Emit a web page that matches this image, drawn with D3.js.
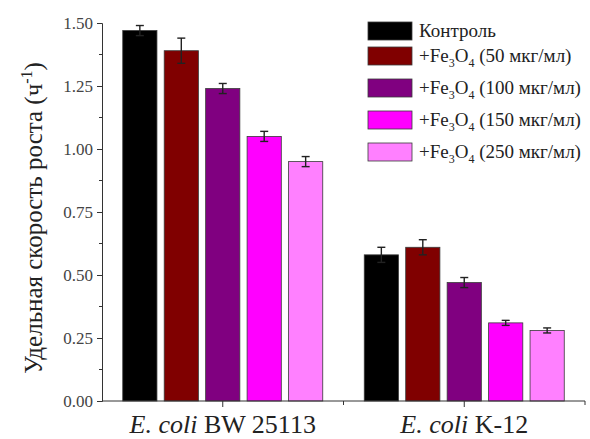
<!DOCTYPE html>
<html>
<head>
<meta charset="utf-8">
<script src="https://cdn.jsdelivr.net/npm/d3@7"></script>
<style>
  body { margin: 0; background: #fff; }
  svg text { font-family: "Liberation Serif", "Tinos", "Times New Roman", "DejaVu Serif", serif; }
</style>
</head>
<body>
<svg width="590" height="439"></svg>
<script>
// данные
const strains = ["BW 25113", "K-12"];
const series = ["Контроль", "50", "100", "150", "250"];
const colors = ["#000000", "#800000", "#800080", "#ff00ff", "#ff80ff"];
const bw25113 = [1.47, 1.39, 1.24, 1.05, 0.95];
const bw25113Err = [0.02, 0.05, 0.02, 0.02, 0.02];
const k12 = [0.58, 0.61, 0.47, 0.31, 0.28];
const k12Err = [0.03, 0.03, 0.02, 0.01, 0.01];
const yTicks = [0, 0.25, 0.5, 0.75, 1.0, 1.25, 1.5];

const values = [bw25113, k12];
const errors = [bw25113Err, k12Err];

const serif = "'Liberation Serif', Tinos, 'Times New Roman', 'DejaVu Serif', serif";
const svg = d3.select("svg").attr("font-family", serif);
const plotL = 102, plotR = 585, plotT = 23, plotB = 401;

const x = d3.scaleBand().domain(strains).range([plotL, plotR]);
const xs = d3.scaleBand().domain(series).range([0, 200]).paddingInner(0.175);
const y = d3.scaleLinear().domain([0, 1.5]).range([plotB, plotT]);

const groups = svg
  .selectAll("g.grp")
  .data(strains)
  .enter()
  .append("g")
  .attr("class", "grp")
  .attr("transform", (d) => "translate(" + (x(d) + x.bandwidth() / 2 - 100) + ",0)");

// столбики
groups.each(function (s, gi) {
  const g = d3.select(this);
  const rows = series.map((k, i) => ({ k, v: values[gi][i], e: errors[gi][i], c: colors[i] }));
  g.selectAll("rect")
    .data(rows)
    .enter()
    .append("rect")
    .attr("x", (d) => xs(d.k))
    .attr("y", (d) => y(d.v))
    .attr("width", xs.bandwidth())
    .attr("height", (d) => y(0) - y(d.v))
    .attr("fill", (d) => d.c)
    .attr("stroke", "#3a3a3a")
    .attr("stroke-width", 0.8);

  // погрешности
  const eb = g.selectAll("g.err").data(rows).enter().append("g").attr("class", "err")
    .attr("stroke", "#222").attr("stroke-width", 1.4);
  const cx = (d) => xs(d.k) + xs.bandwidth() / 2;
  eb.append("line")
    .attr("x1", cx).attr("x2", cx)
    .attr("y1", (d) => y(d.v - d.e)).attr("y2", (d) => y(d.v + d.e));
  eb.append("line")
    .attr("x1", (d) => cx(d) - 4).attr("x2", (d) => cx(d) + 4)
    .attr("y1", (d) => y(d.v + d.e)).attr("y2", (d) => y(d.v + d.e));
  eb.append("line")
    .attr("x1", (d) => cx(d) - 4).attr("x2", (d) => cx(d) + 4)
    .attr("y1", (d) => y(d.v - d.e)).attr("y2", (d) => y(d.v - d.e));
});

// ось Y
const yAxis = svg.append("g").attr("transform", "translate(" + plotL + ",0)")
  .call(d3.axisLeft(y).tickValues(yTicks).tickFormat(d3.format(".2f")).tickSizeOuter(0).tickSize(5).tickPadding(4));
yAxis.attr("font-family", serif);
yAxis.select(".domain").attr("stroke", "#333");
yAxis.selectAll(".tick line").attr("stroke", "#333");
yAxis.selectAll("text").attr("font-size", 17).attr("fill", "#444");
const minorY = d3.range(0.125, 1.5, 0.25);
svg.append("g").selectAll("line").data(minorY).enter().append("line")
  .attr("x1", plotL - 3).attr("x2", plotL)
  .attr("y1", (d) => y(d)).attr("y2", (d) => y(d))
  .attr("stroke", "#333");

// ось X
svg.append("line").attr("x1", plotL).attr("x2", plotR).attr("y1", plotB).attr("y2", plotB)
  .attr("stroke", "#333");
svg.append("g").selectAll("line").data(strains).enter().append("line")
  .attr("x1", (d) => x(d) + x.bandwidth() / 2).attr("x2", (d) => x(d) + x.bandwidth() / 2)
  .attr("y1", plotB).attr("y2", plotB + 6).attr("stroke", "#333");
svg.append("g").selectAll("line").data(strains).enter().append("line")
  .attr("x1", (d) => x(d) + x.bandwidth()).attr("x2", (d) => x(d) + x.bandwidth())
  .attr("y1", plotB).attr("y2", plotB + 4).attr("stroke", "#333");

const xl = svg.append("g").selectAll("text").data(strains).enter().append("text")
  .attr("x", (d) => x(d) + x.bandwidth() / 2)
  .attr("y", 433)
  .attr("text-anchor", "middle")
  .attr("font-size", 26)
  .attr("fill", "#222");
xl.append("tspan").attr("font-style", "italic").text("E. coli");
xl.append("tspan").text((d) => " " + d);

// подпись оси Y
const yt = svg.append("text")
  .attr("transform", "translate(42," + ((plotT + plotB) / 2 + 6) + ") rotate(-90)")
  .attr("text-anchor", "middle")
  .attr("font-size", 25)
  .attr("fill", "#222");
yt.append("tspan").text("Удельная скорость роста (ч");
yt.append("tspan").attr("font-size", 16).attr("dy", -10).text("-1");
yt.append("tspan").attr("dy", 10).text(")");

// легенда
const legY = [31, 56, 88, 120, 152];
const leg = svg.append("g").selectAll("g").data(series).enter().append("g")
  .attr("transform", (d, i) => "translate(368," + legY[i] + ")");
leg.append("rect")
  .attr("x", 0).attr("y", -9).attr("width", 44).attr("height", 18)
  .attr("fill", (d, i) => colors[i])
  .attr("stroke", "#3a3a3a").attr("stroke-width", 0.8);
const lt = leg.append("text").attr("x", 51).attr("y", 6).attr("font-size", 19).attr("fill", "#222");
lt.each(function (d, i) {
  const t = d3.select(this);
  if (i === 0) { t.text(d); return; }
  t.append("tspan").text("+Fe");
  t.append("tspan").attr("font-size", 12).attr("dy", 5).text("3");
  t.append("tspan").attr("dy", -5).text("O");
  t.append("tspan").attr("font-size", 12).attr("dy", 5).text("4");
  t.append("tspan").attr("dy", -5).text(" (" + d + " мкг/мл)");
});
</script>
</body>
</html>
